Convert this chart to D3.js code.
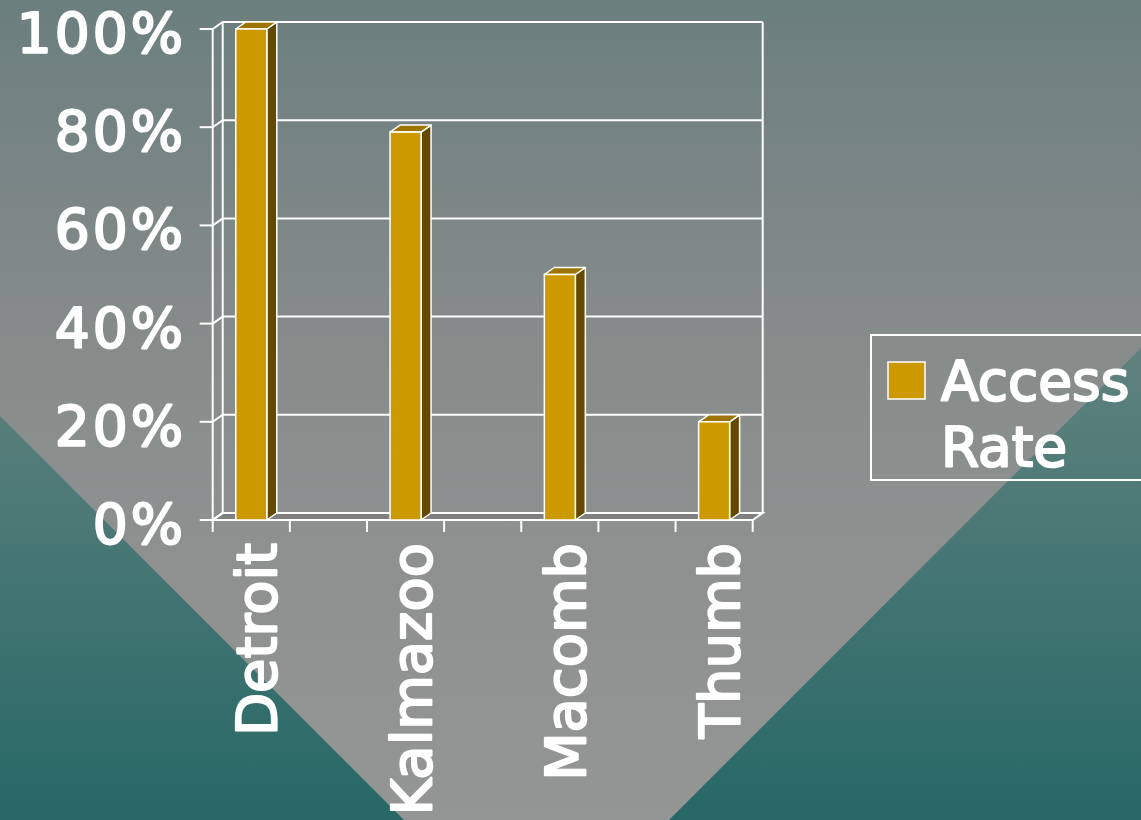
<!DOCTYPE html>
<html>
<head>
<meta charset="utf-8">
<script src="https://cdn.jsdelivr.net/npm/d3@7"></script>
<style>
  html, body { margin: 0; padding: 0; overflow: hidden; }
  text { font-family: "DejaVu Sans", sans-serif; fill: #fff; stroke: #fff; stroke-width: 2.2px; stroke-linejoin: round; }
</style>
</head>
<body>
<div id="chart"></div>
<script>
const categories = ["Detroit", "Kalmazoo", "Macomb", "Thumb"];
const accessRate = [100, 79, 50, 20];
const yTicks = [0, 20, 40, 60, 80, 100];
const legendLines = ["Access", "Rate"];

const width = 1141, height = 820;

const svg = d3.select("#chart").append("svg")
  .attr("width", width)
  .attr("height", height);

const defs = svg.append("defs");

// teal backdrop
const baseGradient = defs.append("linearGradient")
  .attr("id", "baseGradient")
  .attr("x1", 0).attr("y1", 0).attr("x2", 0).attr("y2", 1);
baseGradient.append("stop").attr("offset", "0%").attr("stop-color", "#8a9896");
baseGradient.append("stop").attr("offset", "42%").attr("stop-color", "#60827f");
baseGradient.append("stop").attr("offset", "100%").attr("stop-color", "#266866");

// grey wedge
const wedgeGradient = defs.append("linearGradient")
  .attr("id", "wedgeGradient")
  .attr("gradientUnits", "userSpaceOnUse")
  .attr("x1", 0).attr("y1", 0).attr("x2", 0).attr("y2", height);
wedgeGradient.append("stop").attr("offset", "0%").attr("stop-color", "#6b7f7e");
wedgeGradient.append("stop").attr("offset", "42%").attr("stop-color", "#878c8b");
wedgeGradient.append("stop").attr("offset", "70%").attr("stop-color", "#8f9191");
wedgeGradient.append("stop").attr("offset", "100%").attr("stop-color", "#949595");

svg.append("rect")
  .attr("width", width).attr("height", height)
  .attr("fill", "url(#baseGradient)");

svg.append("polygon")
  .attr("points", [[-416, 0], [1489, 0], [536.5, 952.5]].join(" "))
  .attr("fill", "url(#wedgeGradient)");

// scales
const x = d3.scalePoint()
  .domain(categories)
  .range([212.7, 752.7])
  .padding(0.25);

const y = d3.scaleLinear()
  .domain([0, 100])
  .range([520, 29]);

const dx = 10, dy = -7;      // depth offset of the 3d box
const barW = 31;
const x0 = x.range()[0], x1 = x.range()[1];

const chart = svg.append("g");

// floor
chart.append("polygon")
  .attr("points", [[x0, y(0)], [x1, y(0)], [x1 + dx, y(0) + dy], [x0 + dx, y(0) + dy]].join(" "))
  .attr("fill", "#808080")
  .attr("stroke", "#fff")
  .attr("stroke-width", 2);

// gridlines: side wall diagonal + back wall
chart.selectAll("path.grid")
  .data(yTicks)
  .enter().append("path")
  .attr("class", "grid")
  .attr("d", d => `M${x0},${y(d)}L${x0 + dx},${y(d) + dy}L${x1 + dx},${y(d) + dy}`)
  .attr("fill", "none")
  .attr("stroke", "#fff")
  .attr("stroke-width", 2);

// back wall edges
[x0 + dx, x1 + dx].forEach(xx => {
  chart.append("line")
    .attr("x1", xx).attr("x2", xx)
    .attr("y1", y(100) + dy).attr("y2", y(0) + dy)
    .attr("stroke", "#fff")
    .attr("stroke-width", 2);
});

// y axis front line and ticks
chart.append("line")
  .attr("x1", x0).attr("x2", x0)
  .attr("y1", y(100)).attr("y2", y(0))
  .attr("stroke", "#fff").attr("stroke-width", 2);

chart.selectAll("line.ytick")
  .data(yTicks)
  .enter().append("line")
  .attr("class", "ytick")
  .attr("x1", x0 - 13).attr("x2", x0)
  .attr("y1", d => y(d)).attr("y2", d => y(d))
  .attr("stroke", "#fff").attr("stroke-width", 2);

chart.append("line")
  .attr("x1", x0).attr("x2", x1)
  .attr("y1", y(0)).attr("y2", y(0))
  .attr("stroke", "#fff").attr("stroke-width", 2);

// x ticks sit between category slots (a quarter step each side)
const xTicks = categories.flatMap(c => [x(c) - x.step() / 4, x(c) + x.step() / 4]);

chart.selectAll("line.xtick")
  .data(xTicks)
  .enter().append("line")
  .attr("class", "xtick")
  .attr("x1", d => d).attr("x2", d => d)
  .attr("y1", y(0)).attr("y2", y(0) + 12)
  .attr("stroke", "#fff").attr("stroke-width", 2);

// bars
const bars = chart.selectAll("g.bar")
  .data(categories.map((c, i) => ({ name: c, value: accessRate[i] })))
  .enter().append("g")
  .attr("class", "bar");

bars.append("polygon")
  .attr("points", d => {
    const l = x(d.name) - barW / 2, r = l + barW, t = y(d.value), b = y(0);
    return [[r, b], [r + dx, b + dy], [r + dx, t + dy], [r, t]].join(" ");
  })
  .attr("fill", "#634a00")
  .attr("stroke", "#fff").attr("stroke-width", 1.5).attr("stroke-linejoin", "round");

bars.append("polygon")
  .attr("points", d => {
    const l = x(d.name) - barW / 2, r = l + barW, t = y(d.value);
    return [[l, t], [l + dx, t + dy], [r + dx, t + dy], [r, t]].join(" ");
  })
  .attr("fill", "#9c7500")
  .attr("stroke", "#fff").attr("stroke-width", 1.5).attr("stroke-linejoin", "round");

bars.append("rect")
  .attr("x", d => x(d.name) - barW / 2)
  .attr("y", d => y(d.value))
  .attr("width", barW)
  .attr("height", d => y(0) - y(d.value))
  .attr("fill", "#cc9900")
  .attr("stroke", "#fff").attr("stroke-width", 1.5);

// y labels
chart.selectAll("text.ylabel")
  .data(yTicks)
  .enter().append("text")
  .attr("class", "ylabel")
  .attr("x", 186)
  .attr("y", d => y(d) + 23)
  .attr("text-anchor", "end")
  .attr("font-size", 55)
  .attr("letter-spacing", 3)
  .text(d => d + "%");

// category labels, rotated
chart.selectAll("text.xlabel")
  .data(categories)
  .enter().append("text")
  .attr("class", "xlabel")
  .attr("transform", d => `translate(${x(d) + 25},543) rotate(-90)`)
  .attr("text-anchor", "end")
  .attr("font-size", 56)
  .text(d => d);

// legend
const legend = svg.append("g");

legend.append("rect")
  .attr("x", 871).attr("y", 335)
  .attr("width", 300).attr("height", 145)
  .attr("fill", "none")
  .attr("stroke", "#fff").attr("stroke-width", 2);

legend.append("rect")
  .attr("x", 888).attr("y", 362)
  .attr("width", 37).attr("height", 37)
  .attr("fill", "#cc9900")
  .attr("stroke", "#fff").attr("stroke-width", 1.5);

legend.selectAll("text")
  .data(legendLines)
  .enter().append("text")
  .attr("x", 941)
  .attr("y", (d, i) => 400 + i * 66)
  .attr("font-size", 55)
  .text(d => d);
</script>
</body>
</html>
